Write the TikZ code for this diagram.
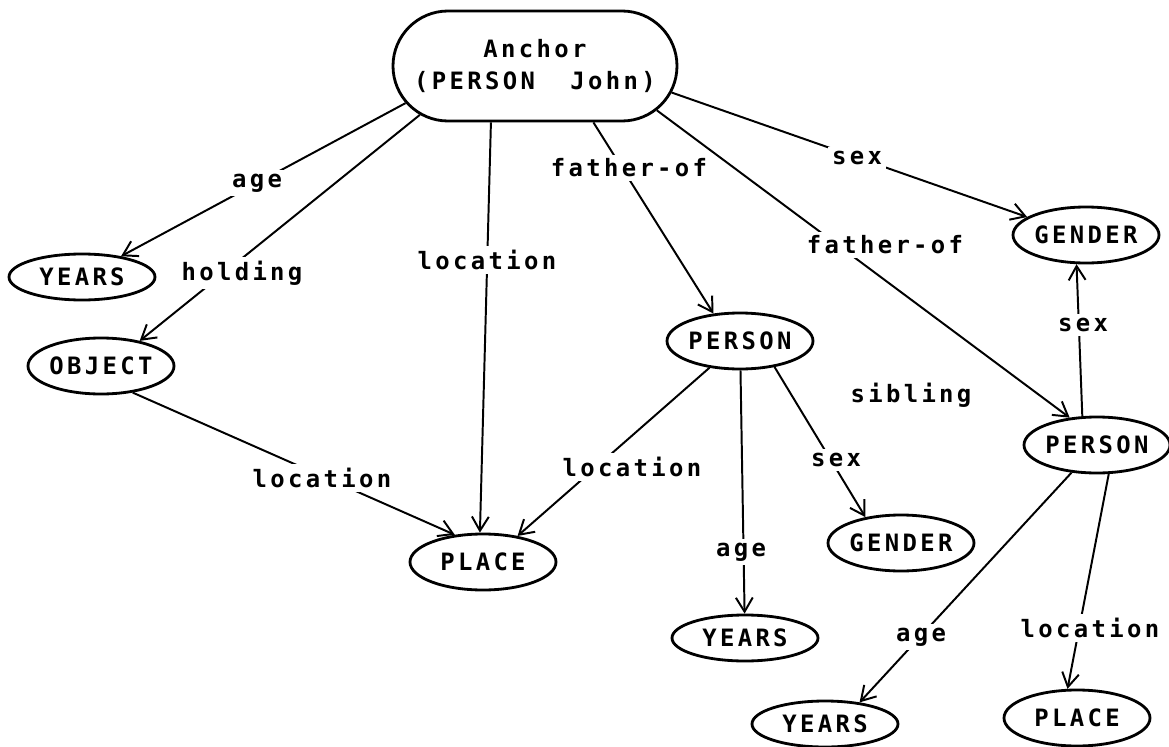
\documentclass[tikz,border=0pt]{standalone}
\usepackage{fontspec}
\usetikzlibrary{shapes.geometric, shapes.misc, arrows.meta}
\newfontfamily\plotfont[LetterSpace=14]{DejaVu Sans Mono}

\begin{document}
\begin{tikzpicture}[
    >={Straight Barb[length=10pt,width=12pt]},
    concept/.style={
        ellipse,
        draw,
        line width=2pt,
        minimum width=3.65cm,
        minimum height=1.4cm,
        inner sep=0pt,
        font=\plotfont\bfseries\fontsize{17}{20}\selectfont
    },
    anchorbox/.style={
        rounded rectangle,
        draw,
        line width=2pt,
        minimum width=7.1cm,
        minimum height=2.75cm,
        inner sep=0pt,
        align=center,
        font=\plotfont\bfseries\fontsize{17}{20}\selectfont
    },
    link/.style={
        ->,
        line width=1.4pt
    },
    rel/.style={
        fill=white,
        inner sep=3pt,
        font=\plotfont\bfseries\fontsize{17}{20}\selectfont
    }
]

    \useasboundingbox (0,0) rectangle (29.225,-18.675);

    % Anchor
    \node[anchorbox] (root) at (13.375,-1.65) {Anchor\\[3pt](PERSON~~John)};

    % Concepts
    \node[concept, minimum height=1.15cm] (yearsA) at (2.05,-6.925) {YEARS};
    \node[concept] (object) at (2.525,-9.15) {OBJECT};
    \node[concept] (placeA) at (12.075,-14.05) {PLACE};
    \node[concept] (personA) at (18.5,-8.525) {PERSON};
    \node[concept] (genderA) at (22.525,-13.575) {GENDER};
    \node[concept, minimum height=1.15cm] (yearsB) at (18.625,-15.95) {YEARS};
    \node[concept] (genderB) at (27.15,-5.875) {GENDER};
    \node[concept] (personB) at (27.425,-11.125) {PERSON};
    \node[concept, minimum height=1.15cm] (yearsC) at (20.625,-18.1) {YEARS};
    \node[concept] (placeB) at (26.925,-17.95) {PLACE};

    % Links
    \draw[link] (root.196) -- (yearsA.28);
    \draw[link] (root.203) -- (object.33);
    \draw[link] (root.232) -- (placeA.96);
    \draw[link] (root.316) -- (personA.134);
    \draw[link] (root.340) -- (personB.135);
    \draw[link] (root.349) -- (genderB.163);
    \draw[link] (object.320) -- (placeA.136);
    \draw[link] (personA) -- (placeA.37);
    \draw[link] (personA) -- (yearsB);
    \draw[link] (personA.323) -- (genderA.144);
    \draw[link] (personB.117) -- (genderB.252);
    \draw[link] (personB) -- (yearsC.32);
    \draw[link] (personB.292) -- (placeB.108);

    % Relation labels
    \node[rel] (age1) at (6.425,-4.575) {age};
    \node[rel] (hold) at (6.05,-6.825) {holding};
    \node[rel] (loc1) at (12.175,-6.5) {location};
    \node[rel] (fath1) at (15.725,-4.2) {father-of};
    \node[rel] (fath2) at (22.125,-6.125) {father-of};
    \node[rel] (sex1) at (21.425,-3.95) {sex};
    \node[rel] (sex2) at (27.075,-8.125) {sex};
    \node[rel] (sib) at (22.775,-9.875) {sibling};
    \node[rel] (loc2) at (8.05,-11.95) {location};
    \node[rel] (loc3) at (15.8,-11.675) {location};
    \node[rel] (sex3) at (20.9,-11.5) {sex};
    \node[rel] (age2) at (18.525,-13.8) {age};
    \node[rel] (age3) at (23.025,-15.925) {age};
    \node[rel] (loc4) at (27.25,-15.7) {location};

\end{tikzpicture}
\end{document}
